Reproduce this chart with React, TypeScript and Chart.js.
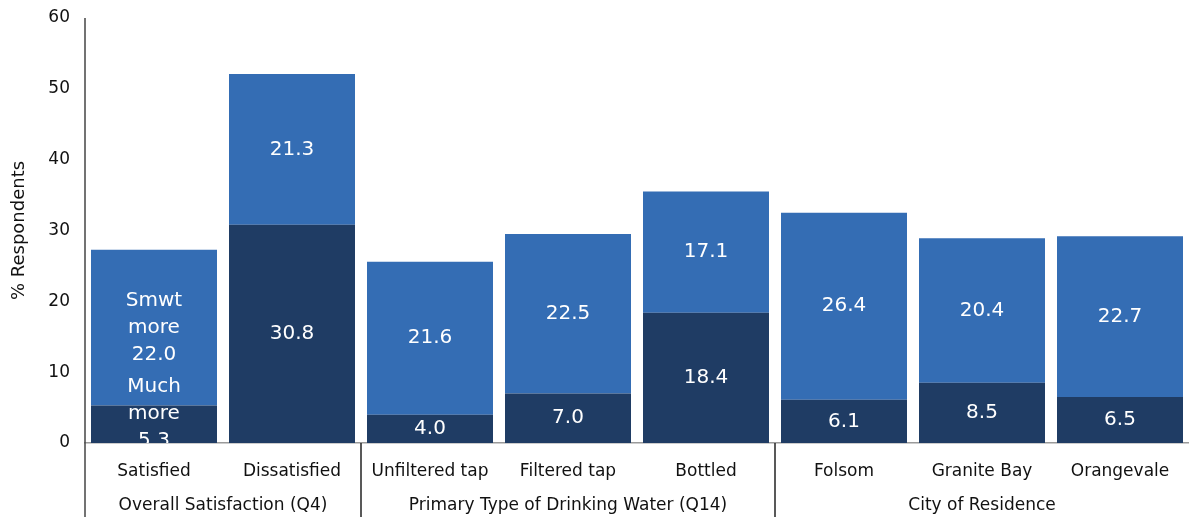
import React, { useEffect, useRef } from "react";
import { Chart, registerables } from "chart.js";

Chart.register(...registerables);

// Categories along the x axis and the group each one belongs to
const categories = [
  "Satisfied",
  "Dissatisfied",
  "Unfiltered tap",
  "Filtered tap",
  "Bottled",
  "Folsom",
  "Granite Bay",
  "Orangevale",
];
const groups = [
  { label: "Overall Satisfaction (Q4)", from: 0, to: 1 },
  { label: "Primary Type of Drinking Water (Q14)", from: 2, to: 4 },
  { label: "City of Residence", from: 5, to: 7 },
];

// Stacked series (% respondents)
const muchMore = [5.3, 30.8, 4.0, 7.0, 18.4, 6.1, 8.5, 6.5];
const somewhatMore = [22.0, 21.3, 21.6, 22.5, 17.1, 26.4, 20.4, 22.7];

// Extra caption lines shown above the value on the first bar only
const muchMoreCaption = ["Much", "more"];
const somewhatMoreCaption = ["Smwt", "more"];

const yTicks = [0, 10, 20, 30, 40, 50, 60];

const FONT = "'DejaVu Sans', Verdana, sans-serif";
const DARK = "#1f3c64";
const LIGHT = "#346db4";

const overlayPlugin = {
  id: "overlay",
  afterDatasetsDraw(chart: any) {
    const { ctx, chartArea } = chart;
    const x = chart.scales.x;
    ctx.save();
    ctx.beginPath();
    ctx.rect(chartArea.left, chartArea.top, chartArea.right - chartArea.left, chartArea.bottom - chartArea.top);
    ctx.clip();
    ctx.fillStyle = "#ffffff";
    ctx.font = `20px ${FONT}`;
    ctx.textAlign = "center";
    ctx.textBaseline = "middle";
    const lineH = 27;
    chart.data.datasets.forEach((ds: any, di: number) => {
      const meta = chart.getDatasetMeta(di);
      meta.data.forEach((el: any, i: number) => {
        const v = ds.data[i] as number;
        const cy = (el.y + el.base) / 2;
        let lines = [v.toFixed(1)];
        let shift = 0;
        if (i === 0) {
          lines = [...(di === 0 ? muchMoreCaption : somewhatMoreCaption), v.toFixed(1)];
          if (di === 0) shift = -10;
        }
        const start = cy + shift - ((lines.length - 1) * lineH) / 2;
        lines.forEach((t, k) => ctx.fillText(t, el.x, start + k * lineH));
      });
    });
    ctx.restore();

    // axis line, group separators and group labels
    const bottom = chart.height - 6;
    ctx.save();
    ctx.strokeStyle = "#444";
    ctx.lineWidth = 1.5;
    ctx.beginPath();
    ctx.moveTo(chartArea.left, chartArea.top);
    ctx.lineTo(chartArea.left, bottom);
    ctx.stroke();
    ctx.strokeStyle = "#222";
    groups.slice(1).forEach((g) => {
      const px = (x.getPixelForValue(g.from - 1) + x.getPixelForValue(g.from)) / 2;
      ctx.beginPath();
      ctx.moveTo(px, chartArea.bottom);
      ctx.lineTo(px, bottom);
      ctx.stroke();
    });
    ctx.fillStyle = "#111";
    ctx.font = `17px ${FONT}`;
    ctx.textAlign = "center";
    ctx.textBaseline = "middle";
    groups.forEach((g) => {
      const cx = (x.getPixelForValue(g.from) + x.getPixelForValue(g.to)) / 2;
      ctx.fillText(g.label, cx, 506);
    });
    ctx.restore();
  },
};

export default function App() {
  const ref = useRef<HTMLCanvasElement>(null);

  useEffect(() => {
    if (!ref.current) return;
    const chart = new Chart(ref.current, {
      type: "bar",
      data: {
        labels: categories,
        datasets: [
          { label: "Much more", data: muchMore, backgroundColor: DARK },
          { label: "Somewhat more", data: somewhatMore, backgroundColor: LIGHT },
        ],
      },
      options: {
        animation: false,
        responsive: true,
        maintainAspectRatio: false,
        layout: { padding: { top: 18, left: 0, right: 0, bottom: 0 } },
        datasets: { bar: { barPercentage: 0.913, categoryPercentage: 1 } },
        plugins: { legend: { display: false }, tooltip: { enabled: false } },
        scales: {
          x: {
            stacked: true,
            grid: { display: false, drawTicks: false },
            border: { display: true, color: "#9a9a9a", width: 1.5 },
            ticks: { color: "#111", font: { family: FONT, size: 17 }, padding: 18, maxRotation: 0, autoSkip: false },
            afterFit: (s: any) => {
              s.height = 80;
              s.paddingLeft = 0;
              s.paddingRight = 0;
            },
          },
          y: {
            stacked: true,
            min: 0,
            max: 60,
            afterBuildTicks: (s: any) => {
              s.ticks = yTicks.map((v) => ({ value: v }));
            },
            grid: { display: false, drawTicks: false },
            border: { display: false },
            ticks: { color: "#111", font: { family: FONT, size: 17 }, padding: 15 },
            title: {
              display: true,
              text: "% Respondents",
              color: "#111",
              font: { family: FONT, size: 18 },
              padding: { top: 9, bottom: 0 },
            },
            afterFit: (s: any) => {
              s.width = 85;
              s.paddingTop = 0;
              s.paddingBottom = 0;
            },
          },
        },
      },
      plugins: [overlayPlugin],
    });
    return () => chart.destroy();
  }, []);

  return (
    <div style={{ position: "fixed", left: 0, top: 0, width: 1189, height: 523, background: "#fff" }}>
      <canvas ref={ref} />
    </div>
  );
}
